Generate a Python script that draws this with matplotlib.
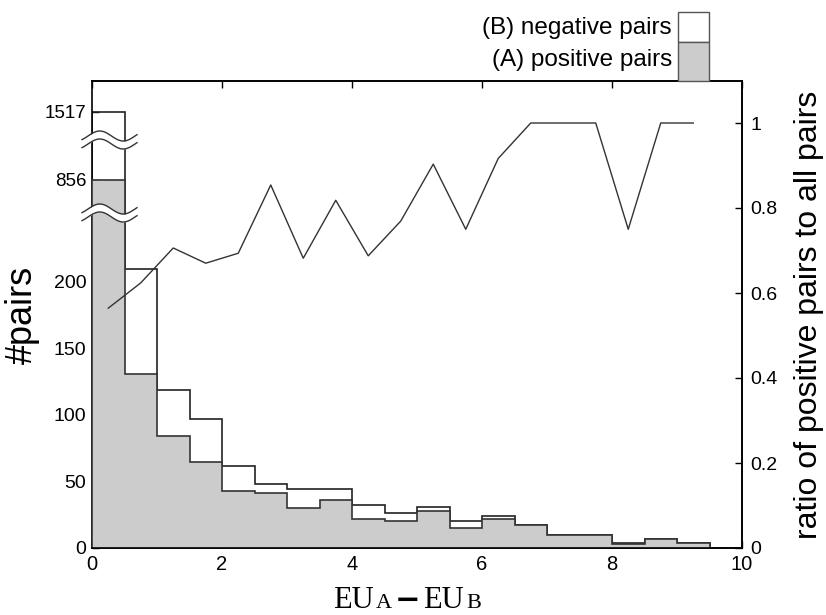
import matplotlib
matplotlib.use("Agg")
import matplotlib.pyplot as plt
import matplotlib.patches as mpatches
from matplotlib.offsetbox import TextArea, HPacker, AnnotationBbox
import numpy as np

# ── Data ─────────────────────────────────────────────────────────────────────
bin_edges = np.arange(0, 10.0, 0.5)          # 0, 0.5, ..., 9.5
total_pairs = [1517, 210, 119, 97, 62, 48, 44, 44, 32, 26,
               31, 20, 24, 17, 10, 10, 4, 7, 4]
positive_pairs = [856, 131, 84, 65, 43, 41, 30, 36, 22, 20,
                  28, 15, 22, 17, 10, 10, 3, 7, 4]
left_ticks = [0, 50, 100, 150, 200, 856, 1517]
right_ticks = [0, 0.2, 0.4, 0.6, 0.8, 1.0]
right_ticklabels = ["0", "0.2", "0.4", "0.6", "0.8", "1"]

total_pairs = np.array(total_pairs, dtype=float)
positive_pairs = np.array(positive_pairs, dtype=float)
ratio = positive_pairs / total_pairs
centers = bin_edges[:-1] + 0.25

SANS = ["Liberation Sans", "DejaVu Sans"]
SERIF = ["Liberation Serif", "DejaVu Serif"]
plt.rcParams["font.family"] = SANS
plt.rcParams["axes.linewidth"] = 1.2

# ── Broken y-scale: linear up to ~255, then two compressed segments ─────────
KV = np.array([0.0, 255.0, 856.0, 1517.0])
KT = np.array([0.0, 255.0, 276.7, 327.8])


def _pw(x, xs, ys):
    x = np.asarray(x, dtype=float)
    out = np.interp(x, xs, ys)
    lo = (ys[1] - ys[0]) / (xs[1] - xs[0])
    hi = (ys[-1] - ys[-2]) / (xs[-1] - xs[-2])
    out = np.where(x < xs[0], ys[0] + (x - xs[0]) * lo, out)
    out = np.where(x > xs[-1], ys[-1] + (x - xs[-1]) * hi, out)
    return out


def fwd(v):
    return _pw(v, KV, KT)


def inv(t):
    return _pw(t, KT, KV)


fig = plt.figure(figsize=(8.26, 6.15), dpi=100)
ax = fig.add_axes([92 / 826, 1 - 548 / 615, 650 / 826, 467 / 615])
ax.set_yscale("function", functions=(fwd, inv))
ax.set_ylim(0, float(inv(351.1)))
ax.set_xlim(0, 10)

GRAY = "#cccccc"
ax.stairs(total_pairs, bin_edges, baseline=0, fill=True,
          facecolor="white", edgecolor="none", zorder=1)
ax.stairs(total_pairs, bin_edges, baseline=0, fill=False,
          color="#222222", lw=1.2, zorder=2)
ax.stairs(positive_pairs, bin_edges, baseline=0, fill=True,
          facecolor=GRAY, edgecolor="none", zorder=3)
ax.stairs(positive_pairs, bin_edges, baseline=0, fill=False,
          color="#333333", lw=1.2, zorder=4)

ax.set_yticks(left_ticks)
ax.set_yticklabels([str(t) for t in left_ticks])
ax.set_xticks([0, 2, 4, 6, 8, 10])
ax.tick_params(axis="y", direction="in", length=5, width=1, labelsize=14,
               pad=4, right=False)
ax.tick_params(axis="x", direction="in", length=5, width=1, labelsize=14.5,
               pad=5, top=True)
# the two labels above the breaks are set a little smaller
for lbl in ax.get_yticklabels()[-2:]:
    lbl.set_fontsize(13.5)
ax.set_ylabel("#pairs", fontsize=26)
ax.yaxis.set_label_coords((40 - 92) / 650, 0.5)

# ── Ratio line on the right axis ─────────────────────────────────────────────
ax2 = ax.twinx()
ax2.plot(centers, ratio, color="#333333", lw=1.0, zorder=5)
ax2.set_ylim(0, 467 / 425)
ax2.set_yticks(right_ticks)
ax2.set_yticklabels(right_ticklabels)
ax2.tick_params(axis="y", direction="in", length=5, width=1, labelsize=14,
                pad=6)
ax2.set_ylabel("ratio of positive pairs to all pairs", fontsize=23)
ax2.yaxis.set_label_coords((794 - 92) / 650, 0.5)
ax2.spines["left"].set_visible(False)

# ── Axis-break marks (wavy white bands across the first bar) ─────────────────
xb = np.linspace((82 - 92) / 65, (137 - 92) / 65, 80)
period = 47 / 65
phase = (88 - 92) / 65
amp = 5 / 467
gap = 8 / 467
trans = ax2.get_xaxis_transform()
for yb in [(548 - 140) / 467, (548 - 213) / 467]:
    w = yb + amp * np.sin(2 * np.pi * (xb - phase) / period)
    ax2.fill_between(xb, w - gap / 2, w + gap / 2, color="white",
                     transform=trans, clip_on=False, zorder=20, lw=0)
    ax2.plot(xb, w - gap / 2, color="#333333", lw=1.0, transform=trans,
             clip_on=False, zorder=21)
    ax2.plot(xb, w + gap / 2, color="#333333", lw=1.0, transform=trans,
             clip_on=False, zorder=21)

# ── Legend drawn above the frame ─────────────────────────────────────────────
W, H = 826, 615
fig.text(672 / W, 1 - 28 / H, "(B) negative pairs", ha="right", va="center",
         fontsize=17.5)
fig.text(672 / W, 1 - 60 / H, "(A) positive pairs", ha="right", va="center",
         fontsize=17.5)
fig.add_artist(mpatches.Rectangle((678 / W, 1 - 42 / H), 31 / W, 30 / H,
                                  transform=fig.transFigure, facecolor="white",
                                  edgecolor="#555555", lw=1.0))
fig.add_artist(mpatches.Rectangle((678 / W, 1 - 81 / H), 31 / W, 39 / H,
                                  transform=fig.transFigure, facecolor=GRAY,
                                  edgecolor="#555555", lw=1.0))

# ── x-axis label  EU_A − EU_B  (small-caps style subscripts) ─────────────────
big = dict(fontsize=22, family=SERIF)
small = dict(fontsize=16, family=SERIF)
dash = dict(fontsize=22, family=["DejaVu Serif"], fontweight="bold")
label_box = HPacker(children=[TextArea("EU", textprops=big),
                              TextArea("A", textprops=small),
                              TextArea("\u2212", textprops=dash),
                              TextArea("EU", textprops=big),
                              TextArea("B", textprops=small)],
                    align="baseline", pad=0, sep=2)
ab = AnnotationBbox(label_box, (407 / W, 15 / H), xycoords="figure fraction",
                    box_alignment=(0.5, 0.5), frameon=False, pad=0)
fig.add_artist(ab)

fig.savefig("out.png", dpi=100)
